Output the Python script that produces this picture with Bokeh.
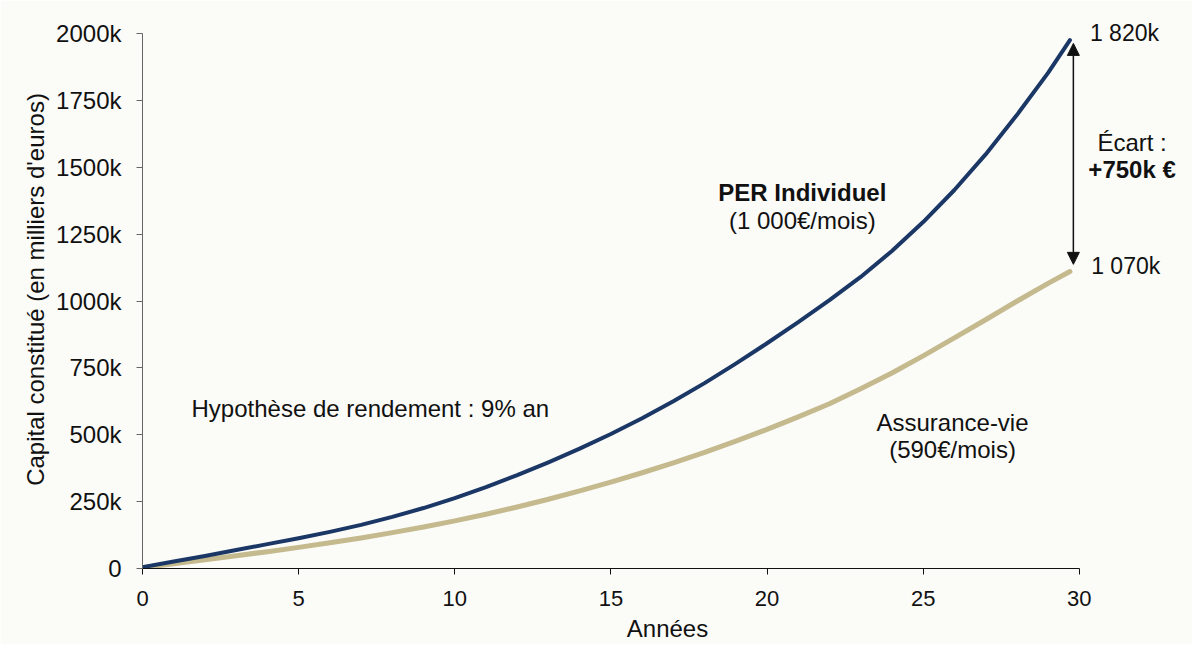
from bokeh.plotting import figure
from bokeh.models import Label, Arrow, NormalHead, Range1d, FixedTicker, CustomJSTickFormatter
from bokeh.embed import file_html
from bokeh.resources import INLINE

# Data (k€)
years = [0, 1, 2, 3, 4, 5, 6, 7, 8, 9, 10, 11, 12, 13, 14, 15, 16, 17, 18, 19,
         20, 21, 22, 23, 24, 25, 26, 27, 28, 29, 29.7]
per_individuel = [5, 26, 47, 69, 91, 113, 137, 163, 193, 226, 263, 304, 349, 397, 448,
                  503, 562, 625, 693, 766, 842, 921, 1003, 1090, 1187, 1295, 1415, 1548,
                  1695, 1853, 1975]
assurance_vie = [3, 18, 33, 48, 63, 79, 96, 114, 134, 155, 178, 203, 230, 259, 290,
                 323, 358, 395, 434, 476, 520, 567, 616, 672, 731, 795, 862, 930,
                 999, 1066, 1110]
x_ticks = [0, 5, 10, 15, 20, 25, 30]
y_ticks = [0, 250, 500, 750, 1000, 1250, 1500, 1750, 2000]

FONT = "Liberation Sans"
BG = "#fbfbf8"
BLUE = "#1b3765"
BEIGE = "#c5b98e"

PX_PER_YEAR = 936.8 / 30
PX_PER_K = 535 / 2000
FRAME_W = 1050
FRAME_H = 558

p = figure(frame_width=FRAME_W, frame_height=FRAME_H, min_border_left=142, min_border_top=10,
           min_border_right=0, min_border_bottom=60,
           x_range=Range1d(0, FRAME_W / PX_PER_YEAR), y_range=Range1d(0, FRAME_H / PX_PER_K),
           output_backend="svg", toolbar_location=None)
p.background_fill_color = BG
p.border_fill_color = BG
p.outline_line_color = None
p.xgrid.visible = False
p.ygrid.visible = False

p.line(years, assurance_vie, line_color=BEIGE, line_width=5, line_cap="round", line_join="round")
p.line(years, per_individuel, line_color=BLUE, line_width=4, line_cap="round", line_join="round")

# Axes
p.xaxis.ticker = FixedTicker(ticks=x_ticks)
p.xaxis.bounds = (0, 30)
p.yaxis.ticker = FixedTicker(ticks=y_ticks)
p.yaxis.bounds = (0, 2000)
p.yaxis.formatter = CustomJSTickFormatter(code="return tick == 0 ? '0' : tick + 'k';")
for ax in (p.xaxis[0], p.yaxis[0]):
    ax.major_label_text_font = FONT
    ax.major_label_text_color = "#111111"
    ax.axis_label_text_font = FONT
    ax.axis_label_text_font_size = "24px"
    ax.axis_label_text_font_style = "normal"
    ax.axis_label_text_color = "#111111"
    ax.minor_tick_line_color = None
    ax.major_tick_in = 0
p.xaxis.major_label_text_font_size = "22px"
p.yaxis.major_label_text_font_size = "24px"
p.xaxis.axis_label = "Années"
p.yaxis.axis_label = "Capital constitué (en milliers d'euros)"
p.xaxis.axis_line_color = "#111111"
p.xaxis.major_tick_line_color = "#111111"
p.xaxis.major_tick_out = 6
p.xaxis.major_label_standoff = 16
p.xaxis.axis_label_standoff = 6
p.yaxis.axis_line_color = "#666666"
p.yaxis.major_tick_line_color = "#666666"
p.yaxis.major_tick_out = 6
p.yaxis.major_label_standoff = 15
p.yaxis.axis_label_standoff = 4

# Arrow showing the gap
p.add_layout(Arrow(x_start=29.81, y_start=1137, x_end=29.81, y_end=1963,
                   line_color="#111111", line_width=1.5,
                   start=NormalHead(size=12, fill_color="#111111", line_color="#111111"),
                   end=NormalHead(size=12, fill_color="#111111", line_color="#111111")))

def lab(x, y, text, size="24px", style="normal", align="center"):
    p.add_layout(Label(x=x, y=y, text=text, text_font=FONT, text_font_size=size,
                       text_font_style=style, text_align=align, text_baseline="middle",
                       text_color="#111111"))

lab(30.34, 2002, "1 820k", size="23px", align="left")
lab(30.38, 1131, "1 070k", size="23px", align="left")
lab(31.69, 1593, "Écart :")
lab(31.69, 1493, "+750k €", style="bold")
lab(21.13, 1406, "PER Individuel", style="bold")
lab(21.13, 1300, "(1 000€/mois)")
lab(25.94, 546, "Assurance-vie")
lab(25.94, 444, "(590€/mois)")
lab(1.57, 600, "Hypothèse de rendement : 9% an", align="left")

open("out.html", "w").write(file_html(p, INLINE))
